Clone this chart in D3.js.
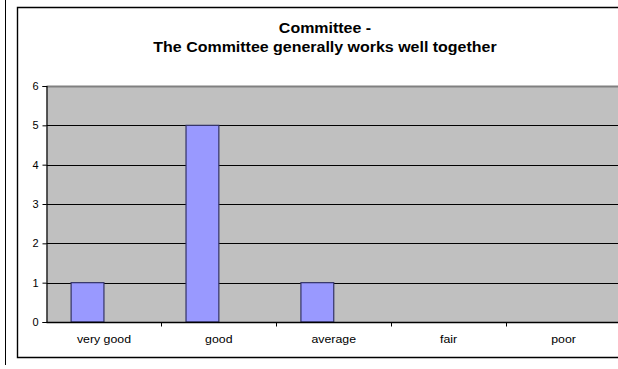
<!DOCTYPE html>
<html>
<head>
<meta charset="utf-8">
<script src="https://cdn.jsdelivr.net/npm/d3@7"></script>
<style>
  html, body { margin: 0; padding: 0; background: #fff; overflow: hidden; }
  svg { display: block; font-family: Arial, "Liberation Sans", sans-serif; }
</style>
</head>
<body>
<svg id="chart" width="618" height="369"></svg>
<script>
// Survey responses: one series of counts plus an empty companion series
const categories = ["very good", "good", "average", "fair", "poor"];
const seriesNames = ["Responses", "Other"];
const responses = [1, 5, 1, 0, 0];
const other = [null, null, null, null, null];
const yTicks = [0, 1, 2, 3, 4, 5, 6];
const titleLines = ["Committee -", "The Committee generally works well together"];

const svg = d3.select("#chart");
const FONT = "Arial, 'Liberation Sans', sans-serif";

// text is drawn slightly wide
function widen(factor) {
  return sel => sel.each(function () {
    const w = this.getComputedTextLength();
    d3.select(this).attr("textLength", w * factor).attr("lengthAdjust", "spacingAndGlyphs");
  });
}

// neighbouring chart frame edge on the left
svg.append("line")
  .attr("x1", 5.5).attr("x2", 5.5).attr("y1", 0).attr("y2", 365)
  .attr("stroke", "#000").attr("stroke-width", 1);

// chart frame (right side runs past the edge)
const frame = { left: 17.5, top: 7.5, bottom: 357.5, right: 640 };
svg.append("rect")
  .attr("x", frame.left).attr("y", frame.top)
  .attr("width", frame.right - frame.left).attr("height", frame.bottom - frame.top)
  .attr("fill", "#fff");
svg.append("path")
  .attr("d", `M${frame.right},${frame.top}H${frame.left}V${frame.bottom}H${frame.right}`)
  .attr("fill", "none").attr("stroke", "#000").attr("stroke-width", 1.4);

const plot = { left: 46.5, top: 86, right: 621, bottom: 322 };

const x = d3.scaleBand().domain(categories).range([plot.left, plot.right]).padding(0);
const y = d3.scaleLinear().domain([0, 6]).range([plot.bottom, plot.top]);

// clustered layout: two series, gap width 150%
const slot = d3.scaleBand().domain(seriesNames)
  .range([0, x.bandwidth()]).paddingInner(0).paddingOuter(0.75);

// plot area
svg.append("rect")
  .attr("x", plot.left).attr("y", plot.top)
  .attr("width", plot.right + 10 - plot.left).attr("height", plot.bottom - plot.top)
  .attr("fill", "#c0c0c0");
svg.append("line")
  .attr("x1", plot.left).attr("x2", plot.right + 10)
  .attr("y1", plot.top + 0.5).attr("y2", plot.top + 0.5)
  .attr("stroke", "#808080").attr("stroke-width", 2);

// horizontal gridlines
svg.append("g").selectAll("line").data(yTicks.filter(d => d > 0 && d < 6)).join("line")
  .attr("x1", plot.left).attr("x2", plot.right + 10)
  .attr("y1", d => Math.round(y(d)) + 0.5).attr("y2", d => Math.round(y(d)) + 0.5)
  .attr("stroke", "#000").attr("stroke-width", 1);

// bars
const series = [responses, other];
series.forEach((vals, si) => {
  svg.append("g").selectAll("rect")
    .data(categories.map((c, i) => ({ c, v: vals[i] })).filter(d => d.v))
    .join("rect")
    .attr("x", d => x(d.c) + slot(seriesNames[si]))
    .attr("width", slot.bandwidth())
    .attr("y", d => y(d.v))
    .attr("height", d => y(0) - y(d.v))
    .attr("fill", "#9999ff")
    .attr("stroke", "#333366").attr("stroke-width", 1.2);
});

// y axis
const yAxis = svg.append("g")
  .attr("transform", `translate(${plot.left},0)`)
  .call(d3.axisLeft(y).tickValues(yTicks).tickFormat(d3.format("d")).tickSize(4).tickPadding(4));
yAxis.select(".domain").attr("stroke", "#000").attr("stroke-width", 1.2);
yAxis.selectAll(".tick line").attr("stroke", "#000");
yAxis.selectAll("text").attr("font-size", 11).attr("fill", "#000").attr("font-family", FONT);

// x axis with ticks at category boundaries
const xAxisG = svg.append("g").attr("transform", `translate(0,${plot.bottom + 0.5})`);
xAxisG.append("line")
  .attr("x1", plot.left).attr("x2", plot.right + 10).attr("stroke", "#000").attr("stroke-width", 1.4);
xAxisG.selectAll("line.tk").data(categories.slice(1)).join("line")
  .attr("class", "tk")
  .attr("x1", d => Math.round(x(d)) + 0.5).attr("x2", d => Math.round(x(d)) + 0.5)
  .attr("y1", 0).attr("y2", 4).attr("stroke", "#000");
xAxisG.selectAll("text").data(categories).join("text")
  .attr("x", d => x(d) + x.bandwidth() / 2)
  .attr("y", 20)
  .attr("text-anchor", "middle")
  .attr("font-size", 11).attr("fill", "#000").attr("font-family", FONT)
  .text(d => d)
  .call(widen(1.12));

// title
svg.append("g").selectAll("text").data(titleLines).join("text")
  .attr("x", 325).attr("y", (d, i) => 33 + i * 18.5)
  .attr("text-anchor", "middle")
  .attr("font-size", 14).attr("font-weight", "bold").attr("fill", "#000").attr("font-family", FONT)
  .text(d => d)
  .call(widen(1.14));
</script>
</body>
</html>
